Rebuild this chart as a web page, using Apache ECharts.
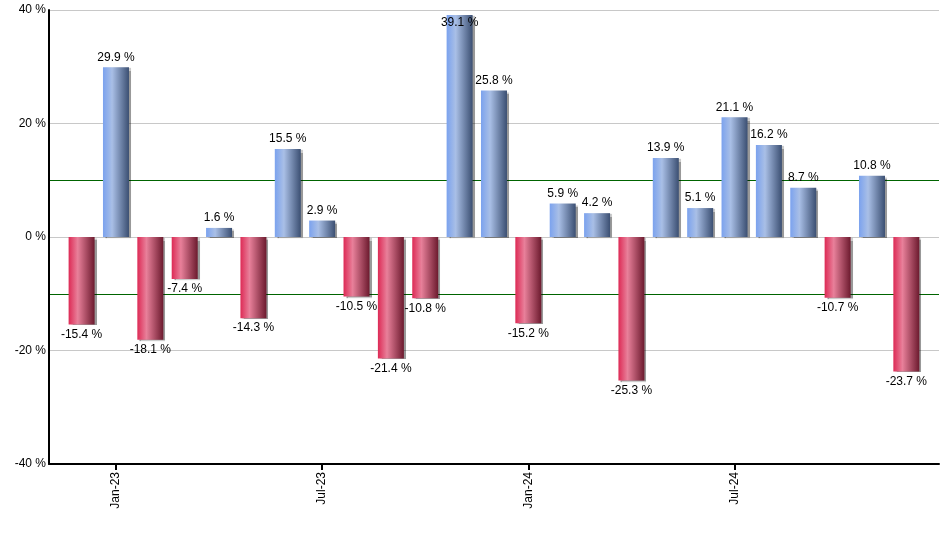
<!DOCTYPE html>
<html>
<head>
<meta charset="utf-8">
<script src="https://cdn.jsdelivr.net/npm/echarts@6/dist/echarts.min.js"></script>
<style>html,body{margin:0;padding:0;background:#fff}#c{width:940px;height:550px}</style>
</head>
<body>
<div id="c"></div>
<script>
var months = ['Dec-22','Jan-23','Feb-23','Mar-23','Apr-23','May-23','Jun-23','Jul-23','Aug-23','Sep-23','Oct-23','Nov-23','Dec-23','Jan-24','Feb-24','Mar-24','Apr-24','May-24','Jun-24','Jul-24','Aug-24','Sep-24','Oct-24','Nov-24','Dec-24'];
var values = [-15.4, 29.9, -18.1, -7.4, 1.6, -14.3, 15.5, 2.9, -10.5, -21.4, -10.8, 39.1, 25.8, -15.2, 5.9, 4.2, -25.3, 13.9, 5.1, 21.1, 16.2, 8.7, -10.7, 10.8, -23.7];
var tickIdx = [1, 7, 13, 19];
var yTicks = [-40, -20, 0, 20, 40];

var posGrad = new echarts.graphic.LinearGradient(0,0,1,0,[
  {offset:0,color:'#7ba2ee'},{offset:0.35,color:'#a9bfe6'},{offset:1,color:'#3b4f72'}]);
var negGrad = new echarts.graphic.LinearGradient(0,0,1,0,[
  {offset:0,color:'#dd2a55'},{offset:0.35,color:'#e8809a'},{offset:1,color:'#6c1a2e'}]);

var data = values.map(function(v,i){
  var pos = v >= 0;
  return {
    value:[i,v],
    itemStyle:{color: pos ? posGrad : negGrad},
    label:{position: v > 36 ? 'insideTop' : (pos ? 'top' : 'bottom'), distance: v > 36 ? 2 : 4}
  };
});

var chart = echarts.init(document.getElementById('c'));
chart.setOption({
  animation:false,
  textStyle:{fontFamily:'Liberation Sans'},
  grid:{left:49, right:1, top:10, bottom:86, containLabel:false},
  xAxis:{
    type:'value', min:-0.949, max:24.95,
    splitLine:{show:false},
    axisLine:{onZero:false, lineStyle:{color:'#000', width:2}},
    axisTick:{show:true, customValues:tickIdx, length:6, lineStyle:{color:'#000', width:2}},
    axisLabel:{customValues:tickIdx, rotate:90, color:'#000', fontSize:12, margin:8,
      formatter:function(v){ return months[Math.round(v)]; }}
  },
  yAxis:{
    type:'value', min:-40, max:40, interval:10,
    axisLine:{show:true, onZero:false, lineStyle:{color:'#000', width:2}},
    axisTick:{show:false},
    axisLabel:{color:'#000', fontSize:12, margin:3,
      formatter:function(v){ return yTicks.indexOf(v) >= 0 ? v + ' %' : ''; }},
    splitLine:{show:true, lineStyle:{width:1,
      color:['rgba(0,0,0,0)','rgba(0,0,0,0)','#c8c8c8','#006400','#c8c8c8','#006400','#c8c8c8','rgba(0,0,0,0)','#c8c8c8']}}
  },
  series:[{
    type:'bar',
    data:data,
    barWidth:26,
    itemStyle:{shadowColor:'rgba(0,0,0,0.4)', shadowBlur:1, shadowOffsetX:2, shadowOffsetY:1},
    label:{show:true, color:'#000', fontSize:12,
      formatter:function(p){ return p.value[1].toFixed(1) + ' %'; }}
  }]
});
</script>
</body>
</html>
